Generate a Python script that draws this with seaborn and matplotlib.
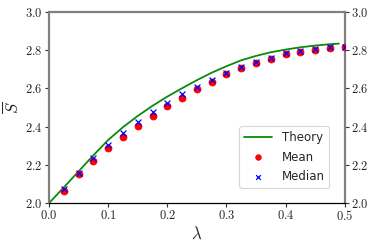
import matplotlib
matplotlib.use("Agg")
import matplotlib.pyplot as plt
import seaborn as sns
import numpy as np
import pandas as pd

theory_lam = [0.0, 0.025, 0.05, 0.075, 0.1, 0.125, 0.15, 0.175, 0.2, 0.225, 0.25,
              0.275, 0.3, 0.325, 0.35, 0.375, 0.4, 0.425, 0.45, 0.475, 0.49]
theory_s = [2.000, 2.082, 2.166, 2.250, 2.330, 2.397, 2.456, 2.509, 2.557, 2.601, 2.643,
            2.682, 2.716, 2.747, 2.770, 2.789, 2.803, 2.815, 2.824, 2.831, 2.834]

lam = [0.025, 0.05, 0.075, 0.1, 0.125, 0.15, 0.175, 0.2, 0.225, 0.25,
       0.275, 0.3, 0.325, 0.35, 0.375, 0.4, 0.425, 0.45, 0.475, 0.5]
mean_s = [2.065, 2.150, 2.222, 2.286, 2.347, 2.403, 2.455, 2.508, 2.551, 2.595,
          2.634, 2.674, 2.705, 2.731, 2.754, 2.778, 2.791, 2.803, 2.813, 2.815]
median_s = [2.073, 2.160, 2.234, 2.304, 2.367, 2.426, 2.475, 2.525, 2.569, 2.609,
            2.646, 2.682, 2.712, 2.737, 2.761, 2.784, 2.796, 2.808, 2.818, 2.818]

xticks = [0.0, 0.1, 0.2, 0.3, 0.4, 0.5]
yticks = [2.0, 2.2, 2.4, 2.6, 2.8, 3.0]

sns.set_style("white")
plt.rcParams['font.family'] = ['DejaVu Sans']
plt.rcParams['mathtext.fontset'] = 'cm'

df_t = pd.DataFrame({"lam": theory_lam, "S": theory_s})
df_m = pd.DataFrame({"lam": lam, "mean": mean_s, "median": median_s})

fig = plt.figure(figsize=(3.74, 2.48), dpi=100)
ax = fig.add_axes([0.131, 0.181, 0.791, 0.771])

sns.lineplot(data=df_t, x="lam", y="S", ax=ax, color="#0a8a0a", lw=1.3, label="Theory")
sns.scatterplot(data=df_m, x="lam", y="mean", ax=ax, color="red", marker="o", s=26,
                edgecolor="red", linewidth=0.5, label="Mean", zorder=3)
sns.scatterplot(data=df_m, x="lam", y="median", ax=ax, color="blue", marker="x", s=18,
                linewidth=0.9, label="Median", zorder=4)

ax.set_xlim(0, 0.5)
ax.set_ylim(2.0, 3.0)
ax.set_xticks(xticks)
ax.set_yticks(yticks)
ax.set_xticklabels([f"${v:.1f}$" for v in xticks], fontsize=9)
ax.set_yticklabels([f"${v:.1f}$" for v in yticks], fontsize=9)
ax.tick_params(axis='both', direction='out', length=3, width=0.8, color='#333333',
               right=True, labelright=True, left=True, bottom=True, pad=1.5)

ax.set_xlabel(r"$\lambda$", fontsize=12, labelpad=1)
ax.set_ylabel(r"$\overline{S}$", fontsize=12, labelpad=2)

for side in ['left', 'right', 'top']:
    ax.spines[side].set_color('#808080')
    ax.spines[side].set_linewidth(1.6)
ax.spines['bottom'].set_color('black')
ax.spines['bottom'].set_linewidth(0.9)

leg = ax.legend(loc='lower right', fontsize=8.5, frameon=True, fancybox=True,
                borderaxespad=1.3, handlelength=2.4, labelspacing=0.55,
                markerscale=0.8)
leg.get_frame().set_edgecolor('#cccccc')
leg.get_frame().set_linewidth(0.8)

fig.savefig("out.png", dpi=100)
